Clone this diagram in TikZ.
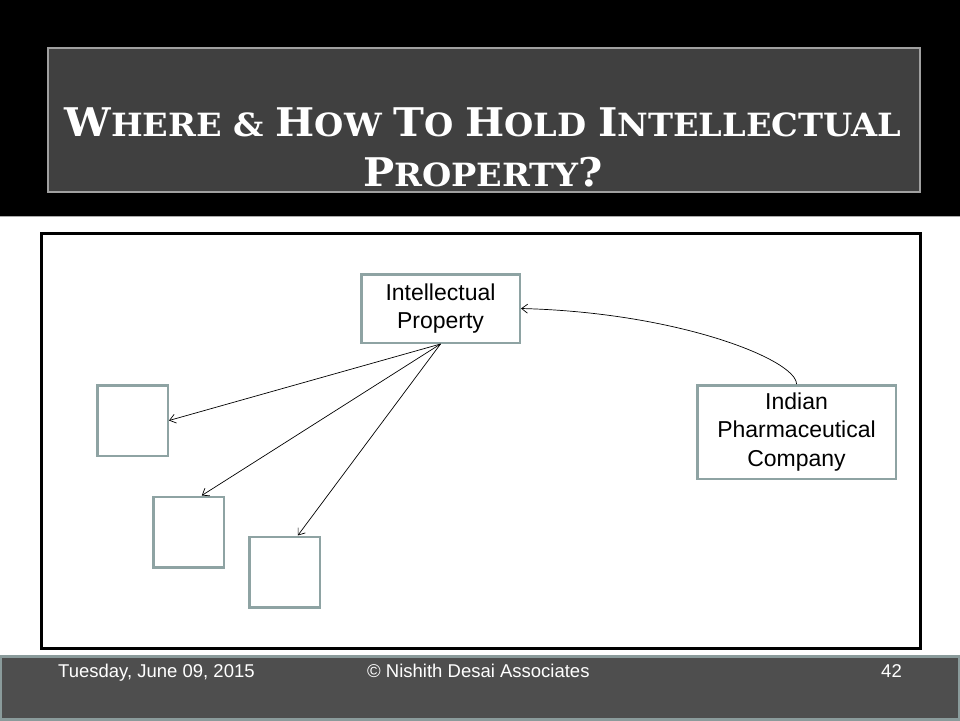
\documentclass[tikz,border=0pt]{standalone}
\usepackage{fontspec}
\setmainfont{Liberation Sans}
\newfontfamily\titlefont{DejaVu Serif}[FakeStretch=1.05]
\usepackage{tikz}
\usetikzlibrary{arrows.meta,positioning}
\definecolor{titlefill}{RGB}{64,64,64}
\definecolor{titleedge}{RGB}{160,160,160}
\definecolor{bandedge}{RGB}{170,170,170}
\definecolor{boxedge}{RGB}{142,163,163}
\definecolor{footfill}{RGB}{78,78,78}
\definecolor{footedge}{RGB}{138,155,155}

\newcommand{\tcap}[1]{{\fontsize{39.5}{50}\selectfont #1}}

\tikzset{
  titlebox/.style={rectangle,draw=titleedge,fill=titlefill,line width=1.5pt,minimum width=872,minimum height=144},
  titletext/.style={align=center,text=white,inner sep=0pt,font=\titlefont\bfseries\fontsize{32}{50}\selectfont},
  entity/.style={rectangle,draw=boxedge,line width=2.5pt,fill=white,align=center,font=\fontsize{23}{28.5}\selectfont},
  holdbox/.style={entity,minimum width=70.5,minimum height=70.5},
  link/.style={->,>={Straight Barb[length=6pt,width=9pt]},line width=0.7pt},
  foottext/.style={text=white,inner sep=0pt,font=\fontsize{18.5}{22}\selectfont}
}

\begin{document}
\begin{tikzpicture}[x=1pt,y=-1pt]
\useasboundingbox (0,0) rectangle (960,720);

% Title band
\draw[fill=black,draw=bandedge] (-2,-2) rectangle (962,216.5);
\node[titlebox] (titlebar) at (484,120) {};
\node[titletext] (title) at (483,147) {\tcap{W}HERE \& \tcap{H}OW \tcap{T}O \tcap{H}OLD \tcap{I}NTELLECTUAL\\\tcap{P}ROPERTY\tcap{?}};

% Main panel
\draw[line width=3pt] (41.5,233.5) rectangle (920,648);

% Entities
\node[entity,minimum width=158.5,minimum height=68.5] (ip) at (440.5,308.5) {Intellectual\\Property};
\node[entity,minimum width=198.5,minimum height=93.5] (company) at (796.5,432) {Indian\\Pharmaceutical\\Company};
\node[holdbox] (hold1) at (132.5,420.5) {};
\node[holdbox] (hold2) at (188.5,532) {};
\node[holdbox] (hold3) at (284.5,572) {};

% Arrows
\draw[link] (ip.south) -- (hold1.east);
\draw[link] (ip.south) -- (hold2.70);
\draw[link] (ip.south) -- (hold3.70);
\draw[link] (company.north) .. controls +(0,-24) and +(158,4) .. (ip.east);

% Footer
\draw[fill=footfill,draw=footedge,line width=3pt] (0.5,656.5) rectangle (959.5,719);
\node[foottext,anchor=base west] (date) at (58,677) {Tuesday, June 09, 2015};
\node[foottext,anchor=base west] (firm) at (367,677) {\textcopyright{} Nishith Desai Associates};
\node[foottext,anchor=base east] (page) at (902,677) {42};

\end{tikzpicture}
\end{document}
